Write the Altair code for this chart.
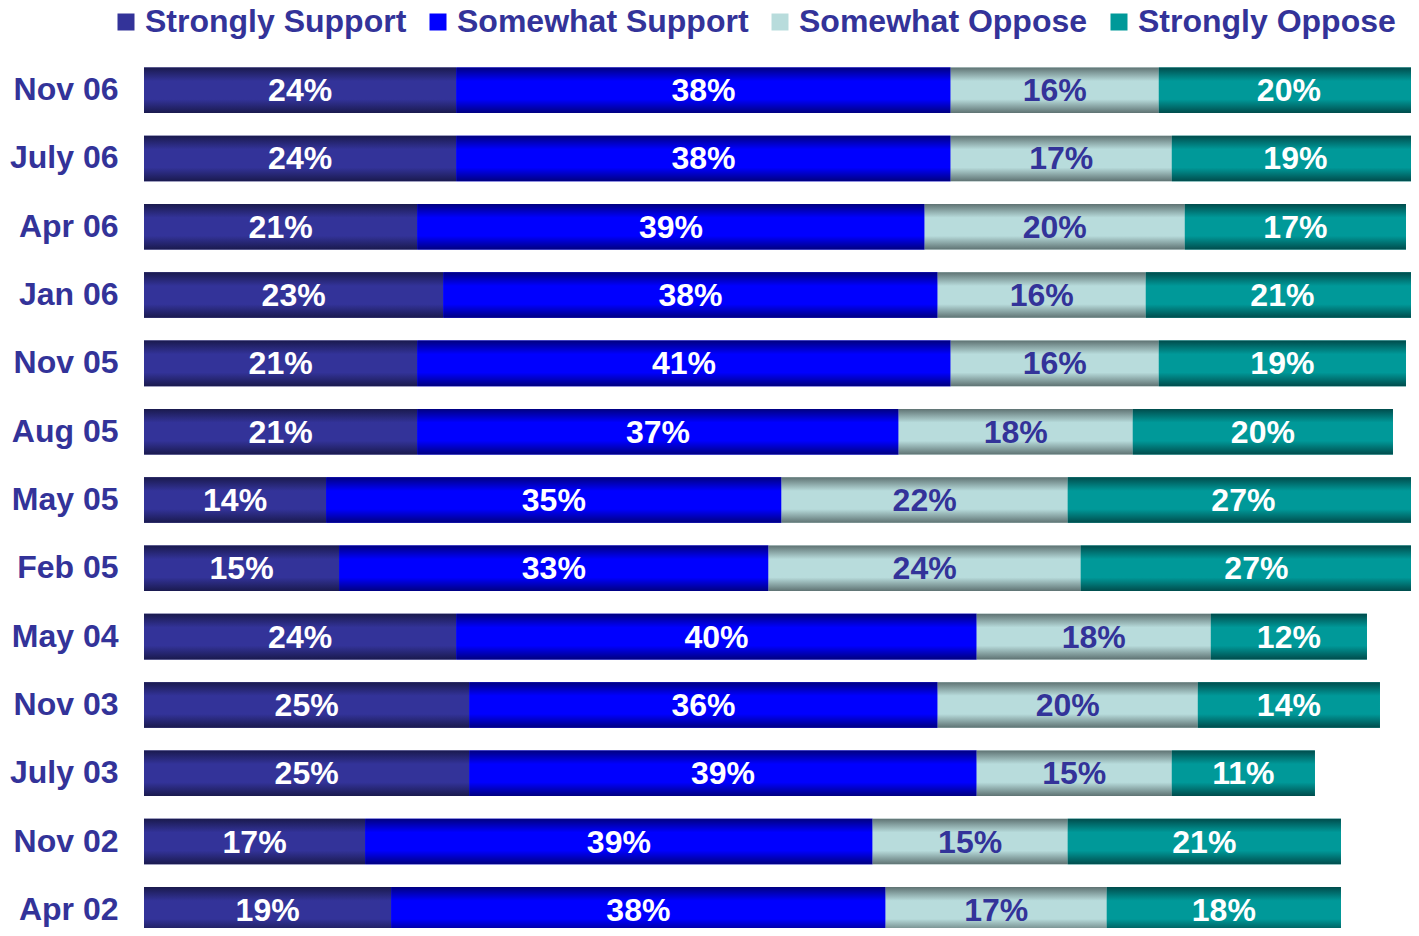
import altair as alt
import pandas as pd

dates = ["Nov 06", "July 06", "Apr 06", "Jan 06", "Nov 05", "Aug 05", "May 05",
         "Feb 05", "May 04", "Nov 03", "July 03", "Nov 02", "Apr 02"]
strongly_support = [24, 24, 21, 23, 21, 21, 14, 15, 24, 25, 25, 17, 19]
somewhat_support = [38, 38, 39, 38, 41, 37, 35, 33, 40, 36, 39, 39, 38]
somewhat_oppose = [16, 17, 20, 16, 16, 18, 22, 24, 18, 20, 15, 15, 17]
strongly_oppose = [20, 19, 17, 21, 19, 20, 27, 27, 12, 14, 11, 21, 18]
categories = ["Strongly Support", "Somewhat Support", "Somewhat Oppose", "Strongly Oppose"]
mid_colors = ["#333399", "#0000ff", "#b8dcdc", "#009999"]
edge_colors = ["#1a1a4e", "#000080", "#5f7373", "#004c4c"]

series = [strongly_support, somewhat_support, somewhat_oppose, strongly_oppose]
rows = []
for ci, (cat, vals) in enumerate(zip(categories, series)):
    for d, v in zip(dates, vals):
        rows.append({"date": d, "cat": cat, "order": ci, "value": v})
df = pd.DataFrame(rows)

FONT = "Liberation Sans"
NAVY = "#333399"

PLOT_W = 1267
PLOT_H = 872
X_MAX = PLOT_W / 13.01  # 98% spans the full window width in the reference

y_enc = alt.Y("date:N", sort=dates, title=None,
              scale=alt.Scale(paddingInner=0.333, paddingOuter=0.1667, range=[0, 888]),
              axis=alt.Axis(labelFont=FONT, labelFontSize=32, labelFontWeight="bold",
                            labelColor=NAVY, ticks=False, domain=False, labelPadding=26,
                            grid=False))
x_scale = alt.Scale(domain=[0, X_MAX], nice=False, zero=True)

base = alt.Chart(df).transform_stack(
    stack="value", groupby=["date"], as_=["x0", "x1"],
    sort=[alt.SortField("order", order="ascending")]
)

legend_layer = base.mark_bar(clip=True).encode(
    y=y_enc,
    x=alt.X("x0:Q", scale=x_scale, axis=None, title=None),
    x2="x1:Q",
    color=alt.Color("cat:N", sort=categories,
                    scale=alt.Scale(domain=categories, range=mid_colors),
                    legend=alt.Legend(title=None, orient="none", direction="horizontal",
                                      columns=4, legendX=-34, legendY=-50,
                                      symbolType="square", symbolSize=289,
                                      symbolStrokeWidth=0,
                                      labelFont=FONT, labelFontSize=32,
                                      labelFontWeight="bold", labelColor=NAVY,
                                      labelOffset=3, columnPadding=15,
                                      labelLimit=500)),
)

grad_layers = []
for cat, mc, ec in zip(categories, mid_colors, edge_colors):
    grad = alt.LinearGradient(
        gradient="linear",
        stops=[alt.GradientStop(offset=0, color=ec),
               alt.GradientStop(offset=0.3, color=mc),
               alt.GradientStop(offset=0.7, color=mc),
               alt.GradientStop(offset=1, color=ec)],
        x1=0, x2=0, y1=0, y2=1)
    layer = base.transform_filter(alt.datum.cat == cat).mark_bar(clip=True, color=grad).encode(
        y=y_enc,
        x=alt.X("x0:Q", scale=x_scale, axis=None, title=None),
        x2="x1:Q",
    )
    grad_layers.append(layer)

text_layer = base.transform_calculate(
    mid="(datum.x0 + datum.x1) / 2",
    label="datum.value + '%'"
).mark_text(font=FONT, fontSize=32, fontWeight="bold", baseline="middle", dy=1).encode(
    y=y_enc,
    x=alt.X("mid:Q", scale=x_scale, axis=None),
    text="label:N",
    color=alt.condition(alt.datum.cat == "Somewhat Oppose", alt.value(NAVY), alt.value("white")),
)

chart = alt.layer(legend_layer, *grad_layers, text_layer).properties(
    width=PLOT_W, height=PLOT_H,
    autosize=alt.AutoSizeParams(type="none"),
    padding={"left": 136, "top": 48, "right": 0, "bottom": 0},
    background="white",
).configure_view(stroke=None)

chart.save("out.html", embed_options={"renderer": "svg", "actions": False})
